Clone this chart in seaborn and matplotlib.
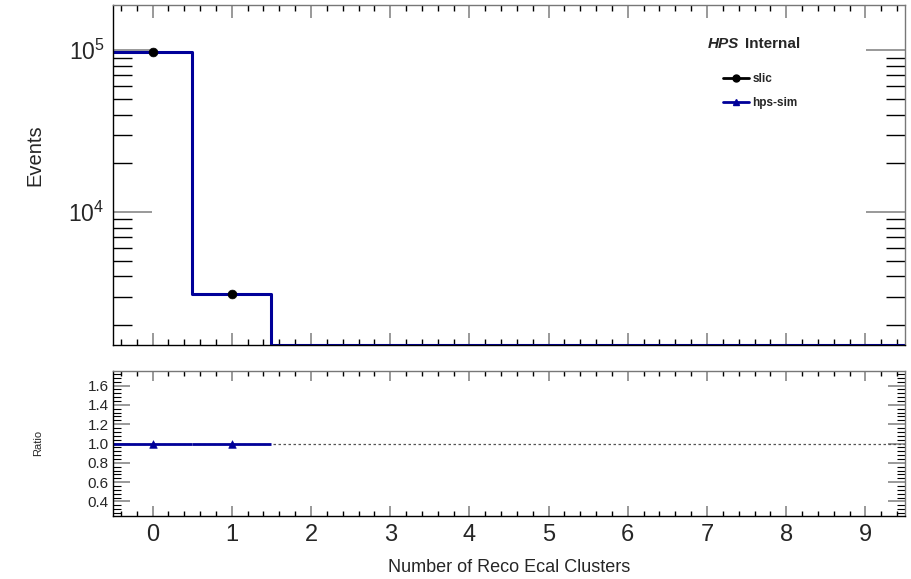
import numpy as np
import pandas as pd
import matplotlib
matplotlib.use("Agg")
import matplotlib.pyplot as plt
import seaborn as sns
from matplotlib.ticker import MultipleLocator, LogLocator, NullFormatter
from matplotlib.lines import Line2D

# ---- data ----
n_clusters = [0, 1, 2, 3, 4, 5, 6, 7, 8, 9]
slic_events = [96900, 3100, 0, 0, 0, 0, 0, 0, 0, 0]
hpssim_events = [96900, 3100, 0, 0, 0, 0, 0, 0, 0, 0]
ratio_x = [0, 1]
ratio_vals = [1.0, 1.0]
x_label = "Number of Reco Ecal Clusters"
y_label = "Events"
ratio_label = "Ratio"
series_names = ["slic", "hps-sim"]

sns.set_theme(style="ticks")
plt.rcParams['font.family'] = ['Liberation Sans', 'DejaVu Sans']
plt.rcParams['mathtext.fontset'] = 'custom'
plt.rcParams['mathtext.rm'] = 'Liberation Sans'
plt.rcParams['mathtext.it'] = 'Liberation Sans:italic'
plt.rcParams['mathtext.bf'] = 'Liberation Sans:bold'

BLUE = "#000099"
MAJ = "#888888"
YMIN, YMAX = 1510, 1.9e5

fig = plt.figure(figsize=(9.12, 5.79), dpi=100)
ax = fig.add_axes([113/912, 1-345/579, 792/912, 340/579])
axr = fig.add_axes([113/912, 1-516/579, 792/912, 145/579])

df = pd.DataFrame({"n": n_clusters, "slic": slic_events, "hps": hpssim_events})
df["hps_plot"] = np.maximum(df["hps"], YMIN * 1.001)

sns.histplot(data=df, x="n", weights="hps_plot", discrete=True, element="step",
             fill=False, color=BLUE, linewidth=2.2, ax=ax)
nz = df[df["slic"] > 0]
sns.scatterplot(data=nz, x="n", y="slic", color="black", s=40, marker="o",
                edgecolor="black", ax=ax, zorder=5)
ax.set_yscale("log")
ax.set_xlim(-0.5, 9.5)
ax.set_ylim(YMIN, YMAX)

# ratio panel
rdf = pd.DataFrame({"x": ratio_x, "r": ratio_vals})
axr.axhline(1.0, color="#555555", linestyle=(0, (2, 2)), linewidth=0.9, zorder=1)
axr.hlines(ratio_vals, [v - 0.5 for v in ratio_x], [v + 0.5 for v in ratio_x],
           color=BLUE, linewidth=2.0, zorder=2)
sns.scatterplot(data=rdf, x="x", y="r", marker="^", s=30, color=BLUE,
                edgecolor=BLUE, ax=axr, zorder=3)
axr.set_xlim(-0.5, 9.5)
axr.set_ylim(0.25, 1.75)

for a in (ax, axr):
    for k, s in a.spines.items():
        s.set_color("black" if k in ("left", "bottom") else "#777777")
        s.set_linewidth(1.0)
    a.tick_params(which="both", direction="in", top=True, right=True)
    a.tick_params(which="major", color=MAJ)
    a.tick_params(which="minor", color="black")
    a.xaxis.set_major_locator(MultipleLocator(1))
    a.xaxis.set_minor_locator(MultipleLocator(0.2))
    a.set_xlabel("")
    a.set_ylabel("")

ax.tick_params(axis="x", which="major", length=9, width=1.2, labelbottom=False)
ax.tick_params(axis="x", which="minor", length=4.5, width=1)
ax.yaxis.set_major_locator(LogLocator(base=10, numticks=10))
ax.yaxis.set_minor_locator(LogLocator(base=10, subs=np.arange(2, 10), numticks=20))
ax.yaxis.set_minor_formatter(NullFormatter())
ax.tick_params(axis="y", which="major", length=28, width=1.2, labelsize=16.5, pad=6)
ax.tick_params(axis="y", which="minor", length=14, width=1)

axr.tick_params(axis="x", which="major", length=7, width=1.2, labelsize=17, pad=6)
axr.tick_params(axis="x", which="minor", length=3.5, width=1)
axr.yaxis.set_major_locator(MultipleLocator(0.2))
axr.yaxis.set_minor_locator(MultipleLocator(0.04))
axr.tick_params(axis="y", which="major", length=12, width=1.2, labelsize=11, pad=3)
axr.tick_params(axis="y", which="minor", length=6, width=0.8)
axr.set_yticks([0.4, 0.6, 0.8, 1.0, 1.2, 1.4, 1.6])
axr.yaxis.set_major_formatter(matplotlib.ticker.FormatStrFormatter("%.1f"))

fig.text(35/912, 1-155/579, y_label, rotation=90, ha="center", va="center", fontsize=14.5)
fig.text(38/912, 1-443/579, ratio_label, rotation=90, ha="center", va="center", fontsize=8)
fig.text(509/912, 1-567/579, x_label, ha="center", va="center", fontsize=13)

fig.text(708/912, 1-44/579, "HPS", ha="left", va="center",
         fontsize=11, fontweight="bold", fontstyle="italic")
fig.text(745/912, 1-44/579, "Internal", ha="left", va="center", fontsize=11, fontweight="bold")

handles = [Line2D([0], [0], color="black", marker="o", markersize=5, linewidth=2),
           Line2D([0], [0], color=BLUE, marker="^", markersize=4, linewidth=2)]
leg = ax.legend(handles, series_names, loc="upper left",
                bbox_to_anchor=((717-113)/792, 1-(67-5)/340), frameon=False,
                prop={"weight": "bold", "size": 8.5}, handlelength=2.2,
                handletextpad=0.3, labelspacing=1.05, borderpad=0)

fig.savefig("out.png", dpi=100)
